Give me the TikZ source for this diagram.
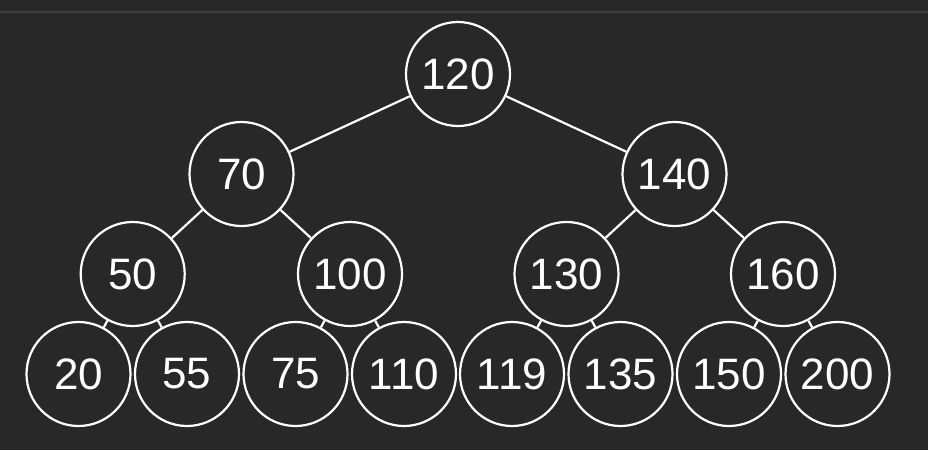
\documentclass[tikz,border=0pt]{standalone}
\usepackage{fontspec}
\setmainfont{Liberation Sans}
\definecolor{bg}{HTML}{282828}
\definecolor{topline}{HTML}{3E3E3E}
\begin{document}
\begin{tikzpicture}[x=1pt,y=-1pt,
  tnode/.style={circle,draw=white,line width=2.2pt,fill=bg,minimum size=104pt,inner sep=0pt,
    text=white,font=\fontsize{44}{50}\selectfont},
  edge/.style={draw=white,line width=2.2pt}]
\fill[bg] (0,0) rectangle (928,450);
\useasboundingbox (0,0) rectangle (928,450);
\fill[topline] (0,10.5) rectangle (928,12.5);
% nodes
\node[tnode] (n120) at (458,74) {120};
\node[tnode] (n70) at (241.5,174) {70};
\node[tnode] (n140) at (674.5,174) {140};
\node[tnode] (n50) at (132.7,274) {50};
\node[tnode] (n100) at (350,274) {100};
\node[tnode] (n130) at (566.5,274) {130};
\node[tnode] (n160) at (783,274) {160};
% edges (drawn before leaves so leaves overlap cleanly)
\draw[edge] (n120) -- (n70);
\draw[edge] (n120) -- (n140);
\draw[edge] (n70) -- (n50);
\draw[edge] (n70) -- (n100);
\draw[edge] (n140) -- (n130);
\draw[edge] (n140) -- (n160);
\node[tnode] (n20) at (78.5,374) {20};
\node[tnode] (n55) at (187,374) {55};
\node[tnode] (n75) at (295.5,374) {75};
\node[tnode] (n110) at (404,374) {110};
\node[tnode] (n119) at (512,374) {119};
\node[tnode] (n135) at (620.5,374) {135};
\node[tnode] (n150) at (729,374) {150};
\node[tnode] (n200) at (837.5,374) {200};
\draw[edge] (n50) -- (n20);
\draw[edge] (n50) -- (n55);
\draw[edge] (n100) -- (n75);
\draw[edge] (n100) -- (n110);
\draw[edge] (n130) -- (n119);
\draw[edge] (n130) -- (n135);
\draw[edge] (n160) -- (n150);
\draw[edge] (n160) -- (n200);
\end{tikzpicture}
\end{document}
